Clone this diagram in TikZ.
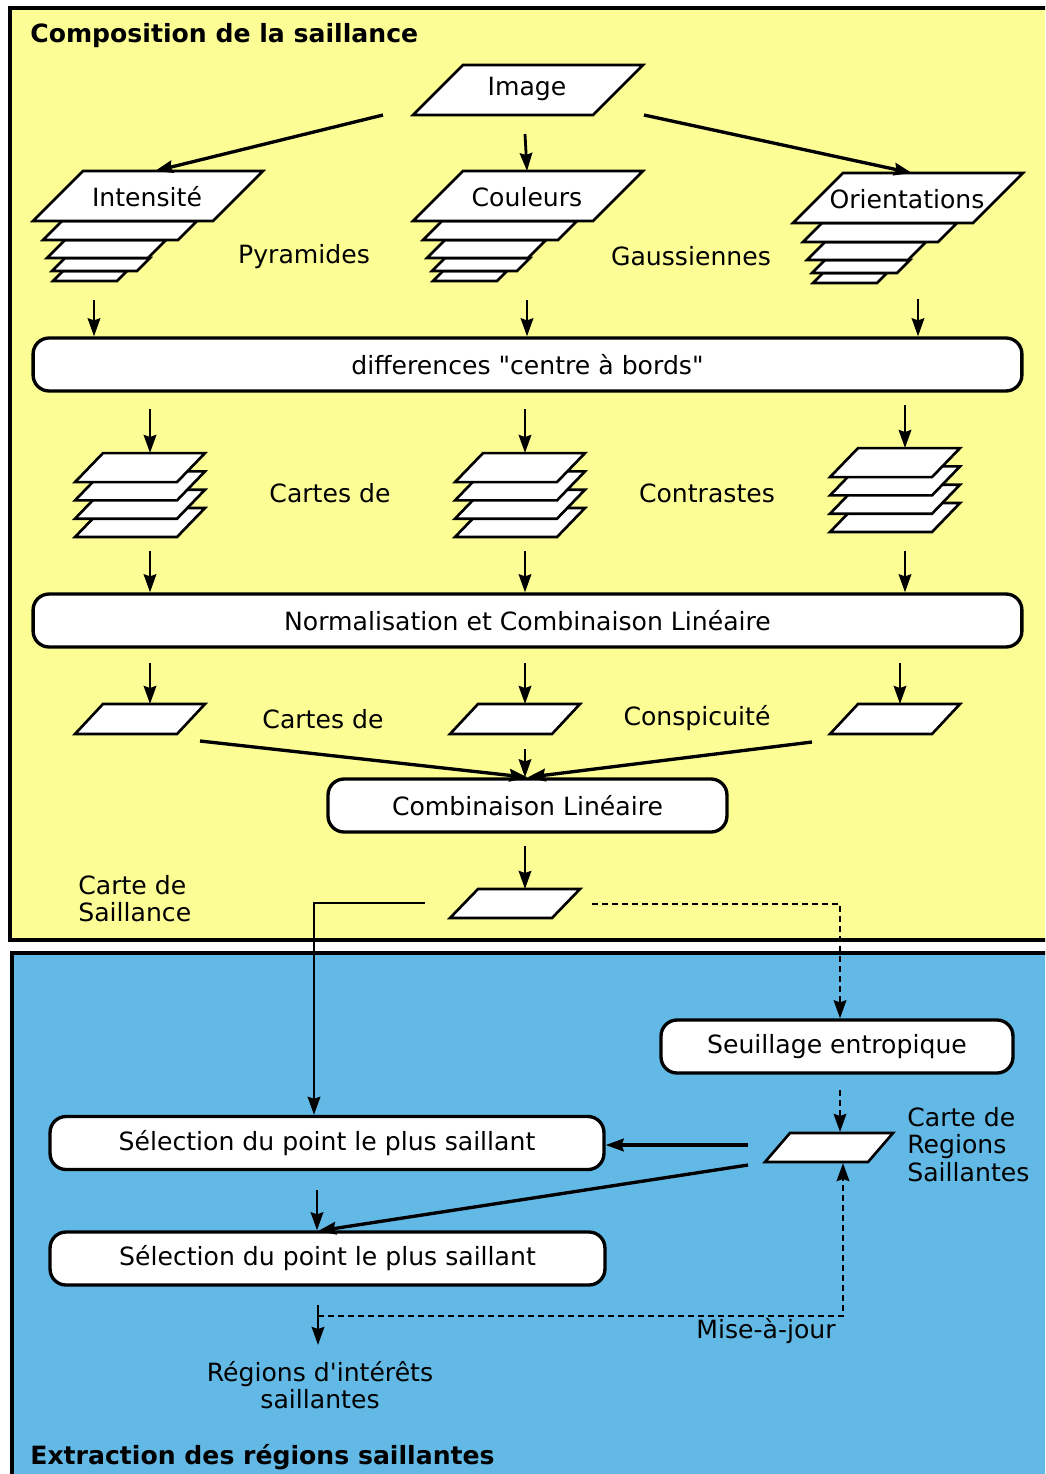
\documentclass[tikz,border=0pt]{standalone}
\usepackage{fontspec}
\setmainfont{DejaVu Sans}
\usetikzlibrary{arrows.meta}
\definecolor{panelyellow}{HTML}{FDFD96}
\definecolor{panelblue}{HTML}{62B9E5}

\begin{document}
\begin{tikzpicture}[x=0.02cm,y=-0.02cm,
    every node/.style={font=\fontsize{14.3}{15.6}\selectfont,inner sep=0pt},
    title/.style={font=\fontsize{14.3}{15.6}\selectfont\bfseries,anchor=west},
    panel/.style={draw,line width=2.6pt},
    procbox/.style={draw,fill=white,rounded corners=0.32cm,line width=1.9pt,minimum height=1.06cm},
    plan/.style={draw,fill=white,line width=1.5pt},
    arr/.style={-{Stealth[length=0.36cm,width=0.25cm,inset=0.04cm]},line width=1.6pt},
    bigarr/.style={arr,line width=1.9pt},
    darr/.style={arr,dash pattern=on 0.12cm off 0.08cm}
]
\useasboundingbox (0,0) rectangle (1045,1474);
\clip (0,0) rectangle (1045,1474);

\path[panel,fill=panelyellow] (10,8) rectangle (1070,940);
\path[panel,fill=panelblue] (12,953) rectangle (1070,1500);
\node[title] (compo) at (30,36) {Composition de la saillance};
\node[title] (extra) at (30,1457) {Extraction des régions saillantes};

\draw[plan] (413,115) -- ++(180,0) -- ++(50,-50) -- ++(-180,0) -- cycle;
\node (img) at (527,89) {Image};

\foreach \px/\py in {33/221, 413/221, 793/223} {
    \foreach \dx/\dy/\w/\h in {20/60/64/10, 19/50/85/13, 14/37/101/18, 10/19/135/19}
        \draw[plan] ({\px+\dx},{\py+\dy}) -- ++(\w,0) -- ++(\h,-\h) -- ++(-\w,0) -- cycle;
    \draw[plan] (\px,\py) -- ++(180,0) -- ++(50,-50) -- ++(-180,0) -- cycle;
}
\node (int) at (147,197) {Intensité};
\node (coul) at (527,197) {Couleurs};
\node (ori) at (907,199) {Orientations};
\node (pyr) at (304,257) {Pyramides};
\node (gauss) at (691,256) {Gaussiennes};

\node[procbox,minimum width=19.78cm] (diff) at (527.5,364.5) {differences \textquotedbl centre à bords\textquotedbl};

\foreach \px/\py in {75/537, 455/537, 830/532}
    \foreach \k in {0,...,3}
        \draw[plan] ({\px},{\py-18.3*\k}) -- ++(102,0) -- ++(28,-29) -- ++(-102,0) -- cycle;
\node (cartes1) at (330,493) {Cartes de};
\node (contr) at (707,493) {Contrastes};

\node[procbox,minimum width=19.78cm] (norm) at (527.5,620.5) {Normalisation et Combinaison Linéaire};

\foreach \px in {75, 450, 830}
    \draw[plan] (\px,734) -- ++(102,0) -- ++(28,-30) -- ++(-102,0) -- cycle;
\node (cartes2) at (323,719) {Cartes de};
\node (consp) at (697,718) {Conspicuité};

\node[procbox,minimum width=7.98cm] (comb) at (527.5,805.5) {Combinaison Linéaire};

\draw[plan] (450,918) -- ++(102,0) -- ++(28,-29) -- ++(-102,0) -- cycle;
\node[align=left,anchor=west] (sal) at (78,898.5) {Carte de\\Saillance};

\node[procbox,minimum width=7.04cm] (seuil) at (837,1046.5) {Seuillage entropique};

\draw[plan] (765,1162) -- ++(103,0) -- ++(25,-29) -- ++(-103,0) -- cycle;
\node[align=left,anchor=west] (reg) at (907,1144.5) {Carte de\\Regions\\Saillantes};

\node[procbox,minimum width=11.08cm] (sel1) at (327,1143) {Sélection du point le plus saillant};
\node[procbox,minimum width=11.1cm] (sel2) at (327.5,1258.5) {Sélection du point le plus saillant};

\node (maj) at (766,1331) {Mise-à-jour};
\node[align=center] (out) at (320,1385) {Régions d\textquotesingle intérêts\\saillantes};

\coordinate (img-w) at (383,115);
\coordinate (img-s) at (525,134);
\coordinate (img-e) at (644,115);
\coordinate (int-n) at (155,171);
\coordinate (coul-n) at (527,171);
\coordinate (ori-n) at (912,173);
\draw[bigarr] (img-w) -- (int-n);
\draw[arr] (img-s) -- (coul-n);
\draw[bigarr] (img-e) -- (ori-n);

\coordinate (int-s) at (94,300);
\coordinate (coul-s) at (527,300);
\coordinate (ori-s) at (918,299);
\foreach \a in {int-s, coul-s, ori-s}
    \draw[arr] (\a) -- (\a |- diff.north);

\coordinate (c1-n) at (150,453);
\coordinate (c2-n) at (525,453);
\coordinate (c3-n) at (905,448);
\draw[arr] (150,409) -- (c1-n);
\draw[arr] (525,409) -- (c2-n);
\draw[arr] (905,405) -- (c3-n);

\coordinate (c1-s) at (150,551);
\coordinate (c2-s) at (525,551);
\coordinate (c3-s) at (905,551);
\foreach \a in {c1-s, c2-s, c3-s}
    \draw[arr] (\a) -- (\a |- norm.north);

\coordinate (k1-n) at (150,704);
\coordinate (k2-n) at (525,704);
\coordinate (k3-n) at (900,704);
\foreach \a in {k1-n, k2-n, k3-n}
    \draw[arr] (\a |- 0,663) -- (\a);

\coordinate (k1-s) at (200,741);
\coordinate (k2-s) at (525,749);
\coordinate (k3-s) at (812,742);
\foreach \a in {k1-s, k3-s}
    \draw[bigarr] (\a) -- (comb.north);
\draw[arr] (k2-s) -- (k2-s |- comb.north);

\coordinate (sal-n) at (525,889);
\draw[arr] (sal-n |- 0,846) -- (sal-n);

\coordinate (sal-w) at (425,903);
\coordinate (sal-e) at (592,904);
\draw[arr] (sal-w) -| (sel1.north -| 314,0);
\draw[darr] (sal-e) -| (840,0 |- seuil.north);

\coordinate (reg-n) at (840,1132);
\coordinate (reg-w) at (748,1145);
\coordinate (reg-sw) at (748,1165);
\coordinate (reg-s) at (843,1163);
\draw[darr] (840,1090) -- (reg-n);
\draw[bigarr] (reg-w) -- (reg-w -| sel1.east);
\draw[bigarr] (reg-sw) -- (318,1231);
\draw[arr] (317,1190) -- (317 ,0 |- sel2.north);

\coordinate (sel2-s) at (318,1305);
\draw[arr] (sel2-s) -- (318,1345);
\draw[darr] (318,1316) -| (reg-s);
\end{tikzpicture}
\end{document}
